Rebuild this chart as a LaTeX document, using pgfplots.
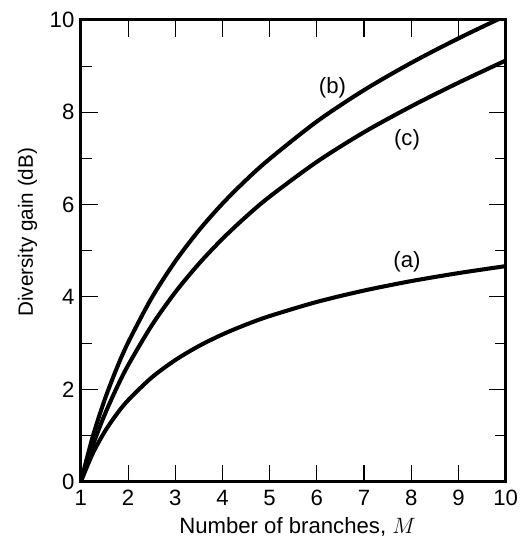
\documentclass[border=0pt]{standalone}
\usepackage{fontspec}
\setmainfont{Liberation Sans}
\usepackage{pgfplots}
\pgfplotsset{compat=1.18}

\begin{document}
\begin{tikzpicture}
\begin{axis}[
    scale only axis,
    width=230pt,
    height=250pt,
    xmin=1, xmax=10,
    ymin=0, ymax=10,
    xtick={1,2,...,10},
    ytick={0,2,...,10},
    minor ytick={1,3,...,9},
    tick align=inside,
    major tick length=9pt,
    minor tick length=6pt,
    every tick/.style={black, line width=0.6pt},
    axis line style={line width=1.6pt},
    /pgf/number format/assume math mode=true,
    tick label style={font=\fontsize{12}{14}\selectfont},
    xticklabel style={yshift=-1pt},
    xlabel={Number of branches, $M$},
    ylabel={Diversity gain (dB)},
    xlabel style={font=\fontsize{12}{14}\selectfont, inner sep=0pt, at={(axis description cs:0.51,-0.112)}, anchor=base},
    ylabel style={font=\fontsize{11.2}{13}\selectfont, inner sep=0pt, at={(axis description cs:-0.113,0.54)}, anchor=base},
    clip=true,
    axis on top,
]
% (a)
\addplot[black, line width=2.2pt, smooth] coordinates {
(1,0) (1.25,0.606) (1.5,1.073) (1.75,1.449) (2,1.761) (2.5,2.254) (3,2.632)
(3.5,2.936) (4,3.188) (4.5,3.401) (5,3.586) (6,3.892) (7,4.138) (8,4.343) (9,4.516) (10,4.667)};
% (b)
\addplot[black, line width=2.2pt, smooth] coordinates {
(1,0) (1.25,0.969) (1.5,1.761) (1.75,2.430) (2,3.010) (2.5,3.979) (3,4.771)
(3.5,5.441) (4,6.021) (4.5,6.532) (5,6.990) (6,7.800) (7,8.480) (8,9.070) (9,9.600) (10,10.09)};
% (c)
\addplot[black, line width=2.2pt, smooth] coordinates {
(1,0) (1.25,0.778) (1.5,1.439) (1.75,2.011) (2,2.518) (2.5,3.381) (3,4.101)
(3.5,4.718) (4,5.259) (4.5,5.739) (5,6.172) (6,6.926) (7,7.568) (8,8.128) (9,8.640) (10,9.120)};
\node[font=\fontsize{12}{14}\selectfont] at (axis cs:6.33,8.53) {(b)};
\node[font=\fontsize{12}{14}\selectfont] at (axis cs:7.91,7.40) {(c)};
\node[font=\fontsize{12}{14}\selectfont] at (axis cs:7.91,4.76) {(a)};
\end{axis}
% margins as in the reference
\path (current axis.south west) ++(-43.8pt,-30pt);
\path (current axis.north east) ++(12.4pt,10.8pt);
\end{tikzpicture}
\end{document}
